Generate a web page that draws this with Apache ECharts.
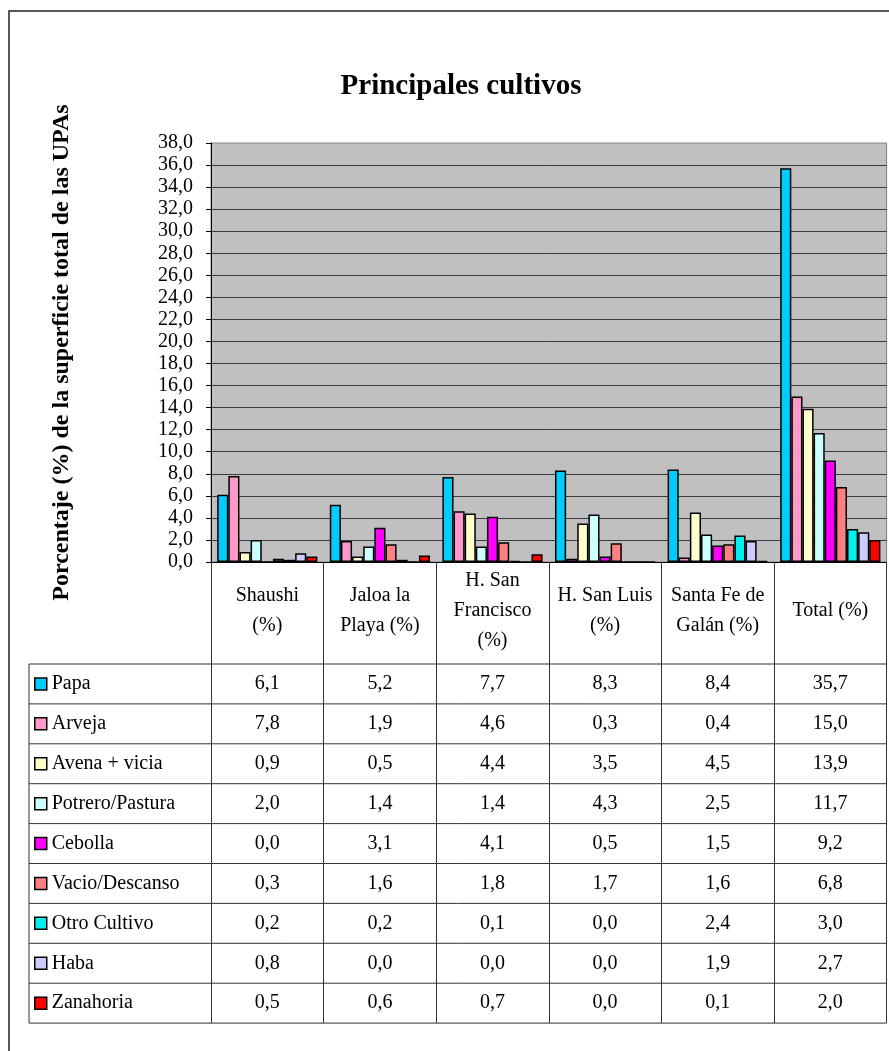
<!DOCTYPE html>
<html>
<head>
<meta charset="utf-8">
<script src="https://cdn.jsdelivr.net/npm/echarts@6/dist/echarts.min.js"></script>
<style>
html, body {margin:0; padding:0; background:#fff;}
#main {width:889px; height:1051px;}
</style>
</head>
<body>
<div id="main"></div>
<script>
// datos
var categorias = ['Shaushi\n(%)', 'Jaloa la\nPlaya (%)', 'H. San\nFrancisco\n(%)', 'H. San Luis\n(%)', 'Santa Fe de\nGalán (%)', 'Total (%)'];
var cultivos = ['Papa', 'Arveja', 'Avena + vicia', 'Potrero/Pastura', 'Cebolla', 'Vacio/Descanso', 'Otro Cultivo', 'Haba', 'Zanahoria'];
var colores = ['#00CCFF', '#FF99CC', '#FFFFCC', '#CCFFFF', '#FF00FF', '#FF8080', '#00F0F0', '#CCCCFF', '#FF0000'];

var papa      = [6.1, 5.2, 7.7, 8.3, 8.4, 35.7];
var arveja    = [7.8, 1.9, 4.6, 0.3, 0.4, 15.0];
var avena     = [0.9, 0.5, 4.4, 3.5, 4.5, 13.9];
var potrero   = [2.0, 1.4, 1.4, 4.3, 2.5, 11.7];
var cebolla   = [0.0, 3.1, 4.1, 0.5, 1.5, 9.2];
var vacio     = [0.3, 1.6, 1.8, 1.7, 1.6, 6.8];
var otro      = [0.2, 0.2, 0.1, 0.0, 2.4, 3.0];
var haba      = [0.8, 0.0, 0.0, 0.0, 1.9, 2.7];
var zanahoria = [0.5, 0.6, 0.7, 0.0, 0.1, 2.0];

var valores = [papa, arveja, avena, potrero, cebolla, vacio, otro, haba, zanahoria];

var yMin = 0, yMax = 38, yStep = 2;

var fuente = "'Liberation Serif', 'Times New Roman', serif";
var tablaTop = 664;     // borde superior de la tabla de datos
var filaH = 39.9;       // alto de cada fila
var tablaLeft = 29;

function coma(v) {
    return v.toFixed(1).replace('.', ',');
}

var chart = echarts.init(document.getElementById('main'));

var series = [];
for (var i = 0; i < cultivos.length; i++) {
    series.push({
        name: cultivos[i],
        type: 'bar',
        data: valores[i],
        barGap: '0%',
        barCategoryGap: '11%',
        itemStyle: {
            color: colores[i],
            borderColor: '#000',
            borderWidth: 1.5
        },
        emphasis: {disabled: true}
    });
}

var option = {
    backgroundColor: '#fff',
    animation: false,
    title: {
        text: 'Principales cultivos',
        left: 456,
        top: 67,
        textAlign: 'center',
        textStyle: {fontFamily: fuente, fontSize: 29, fontWeight: 'bold', color: '#000'}
    },
    legend: {
        orient: 'vertical',
        left: 34,
        top: tablaTop,
        padding: 0,
        itemGap: 0,
        itemWidth: 12,
        itemHeight: 12,
        icon: 'rect',
        selectedMode: false,
        itemStyle: {borderColor: '#000', borderWidth: 1.5},
        textStyle: {fontFamily: fuente, fontSize: 20, color: '#000', lineHeight: filaH},
        data: cultivos
    },
    grid: {
        left: 211,
        top: 143,
        width: 675.6,
        height: 419,
        show: true,
        backgroundColor: '#C0C0C0',
        borderColor: '#808080',
        borderWidth: 1,
        containLabel: false,
        outerBoundsMode: 'none'
    },
    xAxis: {
        type: 'category',
        data: categorias,
        axisLine: {lineStyle: {color: '#000', width: 1}},
        axisTick: {
            show: true,
            interval: 0,
            length: tablaTop + 9 * filaH - 562,
            lineStyle: {color: '#333', width: 1}
        },
        axisLabel: {
            interval: 0,
            margin: 49,
            verticalAlign: 'middle',
            fontFamily: fuente,
            fontSize: 20,
            lineHeight: 30,
            color: '#000'
        },
        splitLine: {show: false}
    },
    yAxis: {
        type: 'value',
        min: yMin,
        max: yMax,
        interval: yStep,
        name: 'Porcentaje (%) de la superficie total de las UPAs',
        nameLocation: 'middle',
        nameRotate: 90,
        nameGap: 137,
        nameTextStyle: {fontFamily: fuente, fontSize: 24, fontWeight: 'bold', color: '#000'},
        axisLine: {show: true, lineStyle: {color: '#000', width: 1}},
        axisTick: {show: true, length: 5, lineStyle: {color: '#000'}},
        axisLabel: {
            margin: 18,
            fontFamily: fuente,
            fontSize: 20,
            color: '#000',
            formatter: function (v) { return coma(v); }
        },
        splitLine: {
            show: true,
            showMinLine: false,
            showMaxLine: false,
            lineStyle: {color: '#3a3a3a', width: 1}
        }
    },
    series: series
};

chart.setOption(option);

// tabla de datos bajo el eje
var derecha = 211 + 675.6;
var graf = [];
graf.push({
    type: 'polyline',
    shape: {points: [[9, 1051], [9, 11], [889, 11]]},
    style: {stroke: '#222', lineWidth: 1.5, fill: null},
    silent: true
});
for (var r = 0; r <= cultivos.length; r++) {
    var y = tablaTop + r * filaH;
    graf.push({
        type: 'line',
        shape: {x1: tablaLeft, y1: y, x2: derecha, y2: y},
        style: {stroke: '#333', lineWidth: 1},
        silent: true
    });
}
graf.push({
    type: 'line',
    shape: {x1: tablaLeft, y1: tablaTop, x2: tablaLeft, y2: tablaTop + cultivos.length * filaH},
    style: {stroke: '#333', lineWidth: 1},
    silent: true
});
for (var s = 0; s < cultivos.length; s++) {
    for (var c = 0; c < categorias.length; c++) {
        var cx = chart.convertToPixel({xAxisIndex: 0}, c);
        graf.push({
            type: 'text',
            x: cx,
            y: tablaTop + (s + 0.5) * filaH,
            silent: true,
            style: {
                text: coma(valores[s][c]),
                fill: '#000',
                font: '20px ' + fuente,
                align: 'center',
                verticalAlign: 'middle'
            }
        });
    }
}
chart.setOption({graphic: graf});
</script>
</body>
</html>
